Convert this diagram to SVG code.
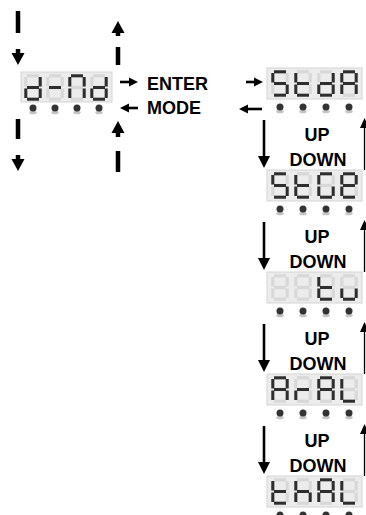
<svg xmlns="http://www.w3.org/2000/svg" xmlns:xlink="http://www.w3.org/1999/xlink" width="366" height="515" viewBox="0 0 366 515">
<style>
.box{fill:#ececec;stroke:#d4d4d4;stroke-width:1}
.off{fill:none;stroke:#d8d8d8;stroke-width:3.2}
.on{fill:none;stroke:#2e2e2e;stroke-width:3}
.dot{fill:#333}
.sh{fill:#c4c4c4}
.lbl{font-family:"Liberation Sans",Arial,sans-serif;font-weight:bold;font-size:18px;fill:#000}
.thick{stroke:#000;stroke-width:4.5;fill:none}
.thin{stroke:#000;stroke-width:2.6;fill:none}
.vthin{stroke:#000;stroke-width:1.3;fill:none}
.ah{fill:#000}
</style>
<defs>
<path id="a" d="M2 0.8H14"/>
<path id="b" d="M15.2 2V11.5"/>
<path id="c" d="M15.2 13.5V23"/>
<path id="d" d="M2 24.2H14"/>
<path id="e" d="M0.8 13.5V23"/>
<path id="f" d="M0.8 2V11.5"/>
<path id="g" d="M2 12.5H14"/>
<g id="base" class="off">
<use href="#a"/><use href="#b"/><use href="#c"/><use href="#d"/><use href="#e"/><use href="#f"/><use href="#g"/>
</g>
<g id="dp"><ellipse class="sh" cx="0" cy="4.5" rx="3.8" ry="1.8"/><circle class="dot" cx="0" cy="0" r="3.5"/></g>
</defs>

<g id="connectors">
<line class="thick" x1="18" y1="11" x2="18" y2="33"/>
<line class="thick" x1="18" y1="49" x2="18" y2="54"/>
<polygon class="ah" points="11.5,53 24.5,53 18,65"/>
<line class="thick" x1="18" y1="119" x2="18" y2="139"/>
<line class="thick" x1="18" y1="155" x2="18" y2="160"/>
<polygon class="ah" points="11.5,159 24.5,159 18,171"/>
<polygon class="ah" points="118,21 111.5,33 124.5,33"/>
<line class="thick" x1="118" y1="32" x2="118" y2="36"/>
<line class="thick" x1="118" y1="47" x2="118" y2="65"/>
<polygon class="ah" points="118,121 111.5,133 124.5,133"/>
<line class="thick" x1="118" y1="132" x2="118" y2="137"/>
<line class="thick" x1="118" y1="151" x2="118" y2="172"/>

<line class="thin" x1="120" y1="82" x2="130" y2="82"/>
<polygon class="ah" points="129,77.5 129,86.5 138,82"/>
<line class="thin" x1="128" y1="108" x2="138" y2="108"/>
<polygon class="ah" points="120,108 129,103.5 129,112.5"/>
<line class="thin" x1="246" y1="82" x2="255" y2="82"/>
<polygon class="ah" points="254,77.5 254,86.5 263,82"/>
<line class="thin" x1="247" y1="109" x2="262" y2="109"/>
<polygon class="ah" points="239,109 248,104.5 248,113.5"/>

<g id="ud1">
<line class="thin" x1="264" y1="120" x2="264" y2="158"/>
<polygon class="ah" points="258,156 270,156 264,168"/>
<line class="vthin" x1="364.5" y1="126" x2="364.5" y2="170"/>
<polygon class="ah" points="364.5,118 360,128 369,128"/>
</g>
<use href="#ud1" y="102"/>
<use href="#ud1" y="204"/>
<use href="#ud1" y="306"/>
</g>

<g id="labels">
<text class="lbl" x="147" y="90">ENTER</text>
<text class="lbl" x="147" y="114">MODE</text>
<text class="lbl" x="317" y="141" text-anchor="middle">UP</text>
<text class="lbl" x="318" y="166" text-anchor="middle">DOWN</text>
<text class="lbl" x="317" y="243" text-anchor="middle">UP</text>
<text class="lbl" x="318" y="268" text-anchor="middle">DOWN</text>
<text class="lbl" x="317" y="345" text-anchor="middle">UP</text>
<text class="lbl" x="318" y="370" text-anchor="middle">DOWN</text>
<text class="lbl" x="317" y="447" text-anchor="middle">UP</text>
<text class="lbl" x="318" y="472" text-anchor="middle">DOWN</text>
</g>

<g id="disp-dInd" transform="translate(21,72)">
<rect class="box" x="0" y="0" width="91" height="30"/>
<g transform="translate(4,3)"><use href="#base"/><g class="on"><use href="#b"/><use href="#c"/><use href="#d"/><use href="#e"/><use href="#g"/></g></g>
<g transform="translate(26,3)"><use href="#base"/><g class="on"><use href="#g"/></g></g>
<g transform="translate(48,3)"><use href="#base"/><g class="on"><use href="#a"/><use href="#b"/><use href="#c"/><use href="#e"/><use href="#f"/></g></g>
<g transform="translate(70,3)"><use href="#base"/><g class="on"><use href="#b"/><use href="#c"/><use href="#d"/><use href="#e"/><use href="#g"/></g></g>
<use href="#dp" x="12" y="36"/><use href="#dp" x="34" y="36"/><use href="#dp" x="56" y="36"/><use href="#dp" x="78" y="36"/>
</g>

<g id="disp-StdA" transform="translate(267,68)">
<rect class="box" x="0" y="0" width="95" height="31"/>
<g transform="translate(5,3)"><use href="#base"/><g class="on"><use href="#a"/><use href="#f"/><use href="#g"/><use href="#c"/><use href="#d"/></g></g>
<g transform="translate(28,3)"><use href="#base"/><g class="on"><use href="#f"/><use href="#e"/><use href="#g"/><use href="#d"/></g></g>
<g transform="translate(51,3)"><use href="#base"/><g class="on"><use href="#b"/><use href="#c"/><use href="#d"/><use href="#e"/><use href="#g"/></g></g>
<g transform="translate(74,3)"><use href="#base"/><g class="on"><use href="#a"/><use href="#b"/><use href="#c"/><use href="#e"/><use href="#f"/><use href="#g"/></g></g>
<use href="#dp" x="13" y="39"/><use href="#dp" x="36" y="39"/><use href="#dp" x="59" y="39"/><use href="#dp" x="82" y="39"/>
</g>

<g id="disp-StGe" transform="translate(267,170)">
<rect class="box" x="0" y="0" width="95" height="31"/>
<g transform="translate(5,3)"><use href="#base"/><g class="on"><use href="#a"/><use href="#f"/><use href="#g"/><use href="#c"/><use href="#d"/></g></g>
<g transform="translate(28,3)"><use href="#base"/><g class="on"><use href="#f"/><use href="#e"/><use href="#g"/><use href="#d"/></g></g>
<g transform="translate(51,3)"><use href="#base"/><g class="on"><use href="#a"/><use href="#f"/><use href="#e"/><use href="#d"/><use href="#c"/></g></g>
<g transform="translate(74,3)"><use href="#base"/><g class="on"><use href="#a"/><use href="#b"/><use href="#f"/><use href="#g"/><use href="#e"/><use href="#d"/></g></g>
<use href="#dp" x="13" y="39"/><use href="#dp" x="36" y="39"/><use href="#dp" x="59" y="39"/><use href="#dp" x="82" y="39"/>
</g>

<g id="disp-tu" transform="translate(267,272)">
<rect class="box" x="0" y="0" width="95" height="31"/>
<g transform="translate(5,3)"><use href="#base"/></g>
<g transform="translate(28,3)"><use href="#base"/></g>
<g transform="translate(51,3)"><use href="#base"/><g class="on"><use href="#f"/><use href="#e"/><use href="#g"/><use href="#d"/></g></g>
<g transform="translate(74,3)"><use href="#base"/><g class="on"><use href="#c"/><use href="#d"/><use href="#e"/></g></g>
<use href="#dp" x="13" y="39"/><use href="#dp" x="36" y="39"/><use href="#dp" x="59" y="39"/><use href="#dp" x="82" y="39"/>
</g>

<g id="disp-ArAL" transform="translate(267,374)">
<rect class="box" x="0" y="0" width="95" height="31"/>
<g transform="translate(5,3)"><use href="#base"/><g class="on"><use href="#a"/><use href="#b"/><use href="#c"/><use href="#e"/><use href="#f"/><use href="#g"/></g></g>
<g transform="translate(28,3)"><use href="#base"/><g class="on"><use href="#e"/><use href="#g"/></g></g>
<g transform="translate(51,3)"><use href="#base"/><g class="on"><use href="#a"/><use href="#b"/><use href="#c"/><use href="#e"/><use href="#f"/><use href="#g"/></g></g>
<g transform="translate(74,3)"><use href="#base"/><g class="on"><use href="#f"/><use href="#e"/><use href="#d"/></g></g>
<use href="#dp" x="13" y="39"/><use href="#dp" x="36" y="39"/><use href="#dp" x="59" y="39"/><use href="#dp" x="82" y="39"/>
</g>

<g id="disp-thAL" transform="translate(267,476)">
<rect class="box" x="0" y="0" width="95" height="31"/>
<g transform="translate(5,3)"><use href="#base"/><g class="on"><use href="#f"/><use href="#e"/><use href="#g"/><use href="#d"/></g></g>
<g transform="translate(28,3)"><use href="#base"/><g class="on"><use href="#f"/><use href="#e"/><use href="#g"/><use href="#c"/></g></g>
<g transform="translate(51,3)"><use href="#base"/><g class="on"><use href="#a"/><use href="#b"/><use href="#c"/><use href="#e"/><use href="#f"/><use href="#g"/></g></g>
<g transform="translate(74,3)"><use href="#base"/><g class="on"><use href="#f"/><use href="#e"/><use href="#d"/></g></g>
<use href="#dp" x="13" y="39"/><use href="#dp" x="36" y="39"/><use href="#dp" x="59" y="39"/><use href="#dp" x="82" y="39"/>
</g>
</svg>
